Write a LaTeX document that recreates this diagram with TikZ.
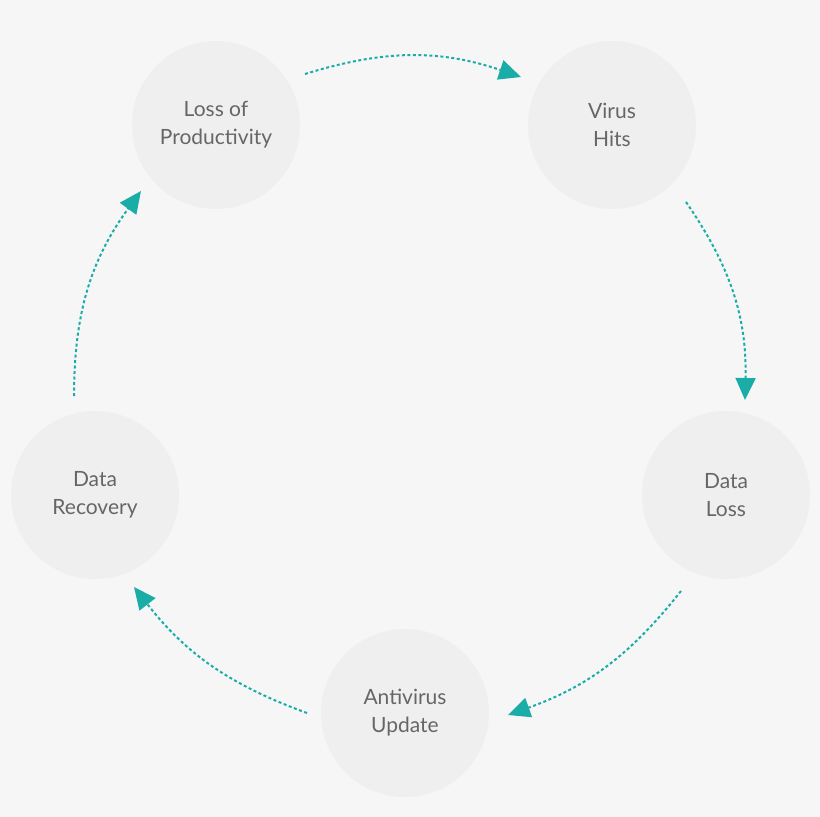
\documentclass[tikz,border=0pt]{standalone}
\usepackage{fontspec}
\setmainfont{Lato}
\usetikzlibrary{arrows.meta}
\definecolor{bg}{HTML}{F6F6F6}
\definecolor{circ}{HTML}{EFEFEF}
\definecolor{txt}{HTML}{666666}
\definecolor{teal}{HTML}{1AADA8}
\begin{document}
\begin{tikzpicture}[x=1pt,y=-1pt,
  st/.style={circle,fill=circ,minimum size=168pt,inner sep=0pt,align=center,text=txt,font=\fontsize{21}{28}\selectfont},
  arr/.style={teal,line width=2pt,dash pattern=on 3pt off 2.5pt,-{Triangle[length=22pt,width=20pt,sep=0pt]}}]
\fill[bg] (0,0) rectangle (820,817);
\useasboundingbox (0,0) rectangle (820,817);
\node[st] (lp) at (216,125) {Loss of\\Productivity};
\node[st] (vh) at (612,125) {Virus\\Hits};
\node[st] (dl) at (726,495) {Data\\Loss};
\node[st] (au) at (405,713) {Antivirus\\Update};
\node[st] (dr) at (95,495) {Data\\Recovery};
\coordinate (a1s) at (305,74); \coordinate (a1e) at (521,77);
\coordinate (a2s) at (686,202); \coordinate (a2e) at (745,400);
\coordinate (a3s) at (681,591); \coordinate (a3e) at (508,715);
\coordinate (a4s) at (307,713); \coordinate (a4e) at (134,587);
\coordinate (a5s) at (74,396); \coordinate (a5e) at (141,191);
\draw[arr] (a1s) to[bend left=18] (a1e);
\draw[arr] (a2s) to[bend left=18] (a2e);
\draw[arr] (a3s) to[bend left=16] (a3e);
\draw[arr] (a4s) to[bend left=16] (a4e);
\draw[arr] (a5s) to[bend left=18] (a5e);
\end{tikzpicture}
\end{document}
